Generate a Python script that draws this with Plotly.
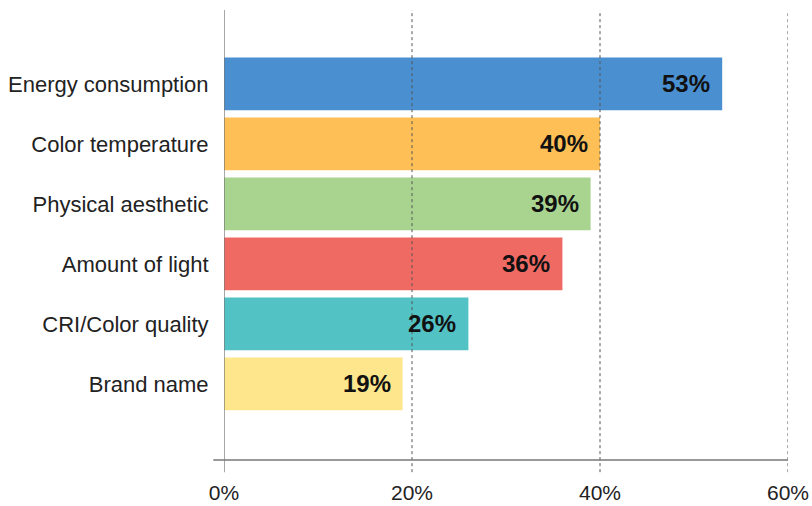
import plotly.graph_objects as go

# Survey results: share of respondents citing each factor
factors = ["Energy consumption", "Color temperature", "Physical aesthetic",
           "Amount of light", "CRI/Color quality", "Brand name"]
shares = [53, 40, 39, 36, 26, 19]
bar_colors = ["#4a8fd0", "#fdbf56", "#a8d490", "#f06a64", "#53c2c5", "#fde68b"]
tick_values = [0, 20, 40, 60]
tick_labels = ["0%", "20%", "40%", "60%"]

FONT = "Liberation Sans, Arial, sans-serif"

fig = go.Figure(
    go.Bar(
        x=shares,
        y=factors,
        orientation="h",
        marker=dict(color=bar_colors, line=dict(width=0)),
        width=0.88,
        hoverinfo="skip",
    )
)

# value labels at the inner end of each bar
for f, v in zip(factors, shares):
    fig.add_annotation(
        x=v, y=f, xref="x", yref="y",
        text=f"<b>{v}%</b>", showarrow=False,
        xanchor="right", xshift=-10,
        font=dict(family=FONT, size=24, color="#111111"),
    )

# dashed reference lines drawn over the bars, extending below the baseline
for t in tick_values[1:]:
    fig.add_shape(
        type="line", xref="x", yref="paper",
        x0=t, x1=t, y0=-0.027, y1=1,
        line=dict(color="#555555", width=1, dash="3px,3px"),
        layer="above",
    )

# solid zero line
fig.add_shape(
    type="line", xref="x", yref="paper",
    x0=tick_values[0], x1=tick_values[0], y0=-0.027, y1=1,
    line=dict(color="#777777", width=1.3),
    layer="above",
)

# baseline
fig.add_shape(
    type="line", xref="paper", yref="paper",
    x0=-0.019, x1=1.0, y0=0, y1=0,
    line=dict(color="#777777", width=1.3),
    layer="above",
)

fig.update_layout(
    width=812, height=506,
    margin=dict(l=224, r=24, t=10, b=46),
    paper_bgcolor="white",
    plot_bgcolor="white",
    showlegend=False,
    xaxis=dict(
        range=[0, 60],
        tickvals=tick_values,
        ticktext=tick_labels,
        showgrid=False,
        zeroline=False,
        showline=False,
        ticks="outside",
        ticklen=14,
        tickcolor="rgba(0,0,0,0)",
        tickfont=dict(family=FONT, size=21, color="#222222"),
        automargin=False,
        fixedrange=True,
    ),
    yaxis=dict(
        categoryorder="array",
        categoryarray=factors,
        range=[6.27, -1.23],
        showgrid=False,
        zeroline=False,
        showline=False,
        ticks="outside",
        ticklen=10,
        tickcolor="rgba(0,0,0,0)",
        tickfont=dict(family=FONT, size=22, color="#222222"),
        automargin=False,
        fixedrange=True,
    ),
)

fig.write_html("out.html")
